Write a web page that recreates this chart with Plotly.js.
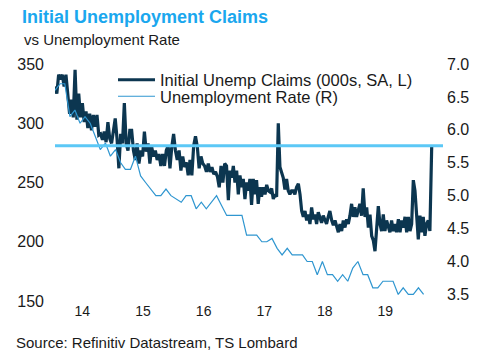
<!DOCTYPE html>
<html>
<head>
<meta charset="utf-8">
<script src="https://cdn.plot.ly/plotly-3.0.1.min.js"></script>
<style>html,body{margin:0;padding:0;background:#fff;}#chart{width:484px;height:362px;}</style>
</head>
<body>
<div id="chart"></div>
<script>
// Initial jobless claims (000s, SA), two stretches
var claimsA_start = '2014-01-01', claimsA_end = '2016-11-11';
var claimsA = [331, 325, 341, 337, 341, 331, 341, 321, 308, 320,
  305, 345, 303, 325, 305, 317, 301, 310, 296, 308,
  294, 307, 297, 307, 290, 291, 286, 293, 284, 301,
  287, 283, 294, 304, 287, 262, 291, 283, 317, 283,
  277, 294, 294, 277, 269, 283, 266, 277, 272, 293,
  276, 283, 266, 280, 272, 277, 269, 274, 264, 274,
  264, 277, 281, 262, 280, 291, 277, 269, 277, 260,
  272, 263, 267, 256, 269, 256, 281, 289, 280, 262,
  272, 266, 264, 259, 266, 259, 263, 257, 259, 255,
  246, 264, 250, 266, 264, 235];
var claimsB_start = '2016-11-21', claimsB_end = '2020-03-21';
var claimsB = [260, 254, 264, 250, 260, 240, 256, 246, 253, 236,
  250, 243, 253, 231, 253, 240, 252, 232, 246, 238,
  246, 240, 248, 243, 242, 245, 236, 240, 238, 300,
  263, 258, 254, 244, 253, 243, 240, 243, 243, 240,
  246, 249, 240, 226, 221, 226, 218, 223, 215, 229,
  219, 223, 215, 225, 221, 216, 222, 218, 215, 221,
  226, 218, 214, 218, 212, 208, 215, 209, 218, 212,
  219, 215, 222, 232, 221, 229, 221, 226, 232, 222,
  245, 221, 229, 212, 223, 205, 201, 192, 209, 230,
  215, 209, 223, 209, 218, 212, 208, 218, 209, 215,
  208, 219, 208, 218, 212, 221, 208, 221, 209, 215,
  252, 243, 221, 202, 222, 208, 221, 205, 215, 218,
  209, 281];
// Unemployment rate (%), monthly from Jan 2014
var rateStart = [2014, 1];
var rate = [6.6, 6.7, 6.7, 6.2, 6.3, 6.1, 6.2, 6.1, 5.9, 5.7, 5.8, 5.6,
  5.7, 5.5, 5.4, 5.4, 5.6, 5.3, 5.2, 5.1, 5.0, 5.0, 5.1, 5.0,
  4.95, 4.9, 5.0, 5.0, 4.8, 4.9, 4.8, 4.9, 5.0, 4.85, 4.7, 4.7,
  4.7, 4.7, 4.4, 4.4, 4.4, 4.3, 4.3, 4.35, 4.2, 4.1, 4.2, 4.1,
  4.1, 4.1, 4.0, 4.0, 3.8, 4.0, 3.8, 3.8, 3.7, 3.8, 3.7, 3.9,
  4.0, 3.8, 3.8, 3.6, 3.6, 3.7, 3.7, 3.7, 3.5, 3.6, 3.5, 3.5,
  3.6, 3.5];
var thresholdClaims = 281;
var xTickYears = [2014, 2015, 2016, 2017, 2018, 2019];
var xTickText = ['14', '15', '16', '17', '18', '19'];
var yLeftTicks = [150, 200, 250, 300, 350];
var yRightTicks = [3.5, 4.0, 4.5, 5.0, 5.5, 6.0, 6.5, 7.0];

function spread(n, a, b) {
  var t0 = new Date(a + 'T00:00:00Z').getTime(), t1 = new Date(b + 'T00:00:00Z').getTime();
  var out = [];
  for (var i = 0; i < n; i++) out.push(new Date(t0 + (t1 - t0) * i / (n - 1)).toISOString().slice(0, 10));
  return out;
}
var claimsX = spread(claimsA.length, claimsA_start, claimsA_end).concat(spread(claimsB.length, claimsB_start, claimsB_end));
var claimsY = claimsA.concat(claimsB);
var rateX = rate.map(function (_, i) {
  var m = rateStart[1] - 1 + i, y = rateStart[0] + Math.floor(m / 12), mm = (m % 12) + 1;
  return y + '-' + (mm < 10 ? '0' : '') + mm + '-01';
});

var F = 'Liberation Sans, Arial, Helvetica, sans-serif';
var data = [
  {x: claimsX, y: claimsY, type: 'scatter', mode: 'lines', name: 'Initial Unemp Claims (000s, SA, L)',
   line: {color: '#0c3650', width: 3.2}, yaxis: 'y', legend: 'legend'},
  {x: rateX, y: rate, type: 'scatter', mode: 'lines', name: 'Unemployment Rate (R)',
   line: {color: '#2f96d0', width: 1.2}, yaxis: 'y2', legend: 'legend2'}
];
var legendBase = {x: (113 - 55) / 388, xanchor: 'left', yanchor: 'middle', itemwidth: 37,
  bgcolor: 'rgba(0,0,0,0)', font: {family: F, size: 16.5, color: '#1a1a1a'}};
var layout = {
  width: 484, height: 362,
  margin: {l: 55, r: 41, t: 64, b: 61, pad: 0},
  paper_bgcolor: '#ffffff', plot_bgcolor: '#ffffff',
  font: {family: F, color: '#1a1a1a', size: 15},
  showlegend: true,
  title: {text: '<b>Initial Unemployment Claims</b>', font: {family: F, size: 18, color: '#1aa7ee'},
    xref: 'container', yref: 'container', x: 22 / 484, xanchor: 'left', y: 1 - 17 / 362, yanchor: 'middle'},
  xaxis: {type: 'date', range: ['2014-01-01', '2020-05-28'], showgrid: false, zeroline: false, showline: false,
    ticks: '', tickvals: xTickYears.map(function (y) { return y + '-06-15'; }), ticktext: xTickText,
    tickfont: {size: 14, family: F, color: '#1a1a1a'}, fixedrange: true},
  yaxis: {range: [150, 350], tickvals: yLeftTicks, showgrid: false, zeroline: false, showline: false, ticks: '',
    tickfont: {size: 16, family: F, color: '#1a1a1a'}, ticklabelstandoff: 10},
  yaxis2: {range: [3.4, 7.0], overlaying: 'y', side: 'right', tickvals: yRightTicks, tickformat: '.1f',
    showgrid: false, zeroline: false, showline: false, ticks: '',
    tickfont: {size: 16, family: F, color: '#1a1a1a'}, ticklabelstandoff: 3},
  legend: Object.assign({}, legendBase, {y: (301 - 80) / 237}),
  legend2: Object.assign({}, legendBase, {y: (301 - 96.5) / 237}),
  shapes: [{type: 'line', xref: 'paper', x0: 0, x1: 1, yref: 'y', y0: thresholdClaims, y1: thresholdClaims,
    line: {color: '#5cc8f6', width: 3}}],
  annotations: [
    {text: 'vs Unemployment Rate', xref: 'paper', yref: 'paper', x: -33 / 388, y: (301 - 40) / 237,
     xanchor: 'left', yanchor: 'middle', showarrow: false, font: {family: F, size: 15, color: '#1a1a1a'}},
    {text: 'Source: Refinitiv Datastream, TS Lombard', xref: 'paper', yref: 'paper', x: -41 / 388, y: (301 - 342) / 237,
     xanchor: 'left', yanchor: 'middle', showarrow: false, font: {family: F, size: 15, color: '#1a1a1a'}}
  ]
};
Plotly.newPlot('chart', data, layout, {displayModeBar: false, staticPlot: true});
</script>
</body>
</html>
